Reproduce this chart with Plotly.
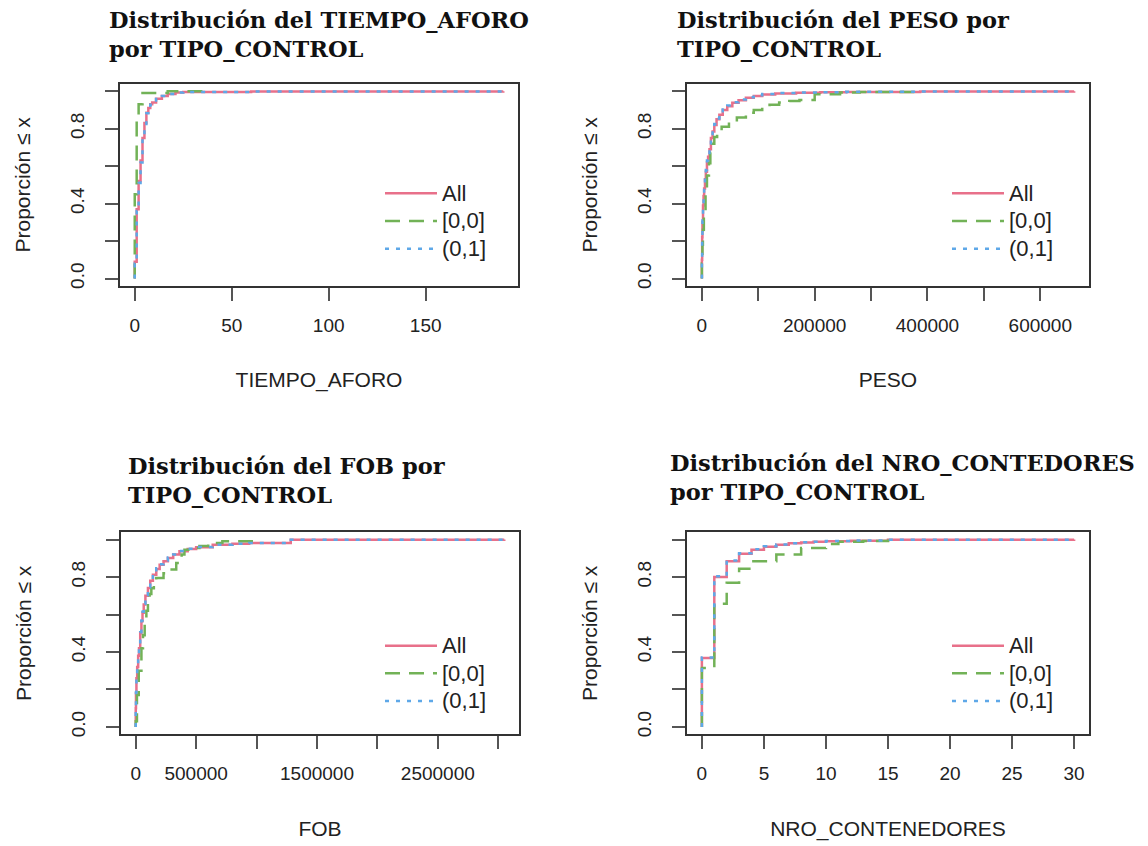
import plotly.graph_objects as go

W, H = 1148, 846
OFF = 8  # the page body adds an 8px margin around the figure

group_names = ["All", "[0,0]", "(0,1]"]

# TIEMPO_AFORO
tiempo_all_x = [0, 0, 1, 2, 3, 4, 5, 6, 7, 8, 9, 11, 14, 17, 21, 25, 60, 190]
tiempo_all_y = [0, 0.09, 0.37, 0.52, 0.63, 0.75, 0.83, 0.885, 0.91, 0.93, 0.94, 0.96, 0.975, 0.985, 0.993, 0.996, 0.999, 1.0]
tiempo_00_x = [0, 0, 1, 2, 4, 17, 38]
tiempo_00_y = [0, 0.45, 0.87, 0.93, 0.99, 1.0, 1.0]
tiempo_01_x = [0, 0, 1, 2, 3, 4, 5, 6, 7, 8, 9, 11, 14, 17, 21, 25, 60, 190]
tiempo_01_y = [0, 0.08, 0.36, 0.51, 0.62, 0.745, 0.825, 0.882, 0.908, 0.928, 0.938, 0.958, 0.974, 0.985, 0.993, 0.996, 0.999, 1.0]

# PESO
peso_all_x = [0, 0, 500, 1000, 2000, 3000, 4000, 5500, 7000, 9000, 11000, 13500, 16000, 19000, 22000, 26000,
              31000, 37000, 45000, 54000, 65000, 78000, 92000, 107000, 130000, 167000, 210000, 256000, 387000, 660000]
peso_all_y = [0, 0.1, 0.22, 0.3, 0.39, 0.44, 0.48, 0.53, 0.57, 0.62, 0.65, 0.69, 0.75, 0.785, 0.82, 0.85,
              0.875, 0.9, 0.92, 0.938, 0.952, 0.965, 0.975, 0.983, 0.988, 0.992, 0.994, 0.996, 0.999, 1.0]
peso_00_x = [0, 0, 1000, 1800, 3500, 6500, 9000, 12500, 15000, 18400, 22000, 27000, 35000, 48000, 62000, 78000,
             92000, 107000, 120000, 137000, 155000, 173000, 200000, 245000, 280000, 387000]
peso_00_y = [0, 0.08, 0.18, 0.26, 0.36, 0.47, 0.55, 0.615, 0.67, 0.72, 0.755, 0.78, 0.81, 0.835, 0.86, 0.885,
             0.9, 0.915, 0.928, 0.94, 0.948, 0.953, 0.984, 0.993, 0.996, 1.0]
peso_01_x = [0, 0, 500, 1000, 2000, 3000, 4000, 5500, 7000, 9000, 11000, 13500, 16000, 19000, 22000, 26000,
             31000, 37000, 45000, 54000, 65000, 78000, 92000, 107000, 130000, 167000, 210000, 256000, 387000, 660000]
peso_01_y = [0, 0.1, 0.23, 0.31, 0.4, 0.45, 0.49, 0.54, 0.58, 0.63, 0.66, 0.7, 0.755, 0.79, 0.825, 0.855,
             0.88, 0.903, 0.924, 0.941, 0.956, 0.968, 0.978, 0.985, 0.99, 0.993, 0.995, 0.997, 0.999, 1.0]

# FOB
fob_all_x = [0, 0, 2000, 5700, 12000, 20000, 27000, 37000, 47000, 56000, 66000, 80000, 101000, 120000, 142000,
             170000, 198000, 230000, 266000, 310000, 362000, 430000, 500000, 637000, 800000, 939000, 1283000, 3050000]
fob_all_y = [0, 0.1, 0.18, 0.26, 0.32, 0.38, 0.42, 0.5, 0.564, 0.61, 0.653, 0.7, 0.742, 0.78, 0.813,
             0.843, 0.866, 0.885, 0.902, 0.92, 0.938, 0.95, 0.959, 0.973, 0.978, 0.982, 0.999, 1.0]
fob_00_x = [0, 0, 10000, 25000, 47000, 60000, 74000, 88000, 101000, 115000, 129000, 150000, 170000, 230000,
            280000, 335000, 380000, 403000, 460000, 527000, 600000, 717000, 960000]
fob_00_y = [0, 0.03, 0.17, 0.3, 0.42, 0.49, 0.555, 0.62, 0.672, 0.71, 0.74, 0.77, 0.795, 0.82,
            0.84, 0.875, 0.92, 0.946, 0.955, 0.966, 0.982, 0.991, 1.0]
fob_01_x = [0, 0, 2000, 5700, 12000, 20000, 27000, 37000, 47000, 56000, 66000, 80000, 101000, 120000, 142000,
            170000, 198000, 230000, 266000, 310000, 362000, 430000, 500000, 637000, 800000, 939000, 1283000, 3050000]
fob_01_y = [0, 0.1, 0.185, 0.265, 0.325, 0.385, 0.425, 0.505, 0.568, 0.615, 0.657, 0.704, 0.746, 0.784, 0.817,
            0.847, 0.869, 0.888, 0.904, 0.921, 0.939, 0.951, 0.96, 0.973, 0.978, 0.982, 0.999, 1.0]

# NRO_CONTENEDORES
nro_all_x = [0, 0, 1, 2, 3, 4, 5, 6, 7, 8, 9, 10, 12, 15, 30]
nro_all_y = [0, 0.368, 0.80, 0.885, 0.924, 0.946, 0.962, 0.973, 0.98, 0.985, 0.988, 0.991, 0.994, 0.999, 1.0]
nro_00_x = [0, 0, 1, 2, 3, 4, 5, 6, 7, 8, 9, 10, 11, 13, 15]
nro_00_y = [0, 0.315, 0.657, 0.77, 0.845, 0.885, 0.885, 0.92, 0.92, 0.955, 0.955, 0.977, 0.988, 0.993, 1.0]
nro_01_x = [0, 0, 1, 2, 3, 4, 5, 6, 7, 8, 9, 10, 12, 15, 30]
nro_01_y = [0, 0.37, 0.805, 0.889, 0.927, 0.948, 0.964, 0.974, 0.981, 0.986, 0.989, 0.992, 0.995, 0.999, 1.0]

titles = ["Distribución del TIEMPO_AFORO<br>por TIPO_CONTROL",
          "Distribución del PESO por<br>TIPO_CONTROL",
          "Distribución del FOB por<br>TIPO_CONTROL",
          "Distribución del NRO_CONTEDORES<br>por TIPO_CONTROL"]
x_titles = ["TIEMPO_AFORO", "PESO", "FOB", "NRO_CONTENEDORES"]
y_title = "Proporción ≤ x"

x_tickvals = [[0, 50, 100, 150],
              [0, 100000, 200000, 300000, 400000, 500000, 600000],
              [0, 500000, 1000000, 1500000, 2000000, 2500000, 3000000],
              [0, 5, 10, 15, 20, 25, 30]]
x_ticktext = [["0", "50", "100", "150"],
              ["0", "", "200000", "", "400000", "", "600000"],
              ["0", "500000", "", "1500000", "", "2500000", ""],
              ["0", "5", "10", "15", "20", "25", "30"]]
y_tickvals = [0, 0.2, 0.4, 0.6, 0.8, 1.0]
y_ticktext = ["0.0", "", "0.4", "", "0.8", ""]

data_sets = [
    [(tiempo_all_x, tiempo_all_y), (tiempo_00_x, tiempo_00_y), (tiempo_01_x, tiempo_01_y)],
    [(peso_all_x, peso_all_y), (peso_00_x, peso_00_y), (peso_01_x, peso_01_y)],
    [(fob_all_x, fob_all_y), (fob_00_x, fob_00_y), (fob_01_x, fob_01_y)],
    [(nro_all_x, nro_all_y), (nro_00_x, nro_00_y), (nro_01_x, nro_01_y)],
]

# ---------------- styling / layout ----------------
colors = ["#E8708A", "#72B257", "#5EA8E8"]
dashes = ["solid", "15px,9px", "4px,7px"]

# plot boxes in window pixels: (left, right, top, bottom)
boxes = [(120, 518, 84, 287), (687, 1089, 84, 287), (121, 519, 534, 737), (687, 1089, 534, 737)]
title_pos = [(107, 35), (675, 35), (126, 482), (668, 479)]
legend_pos = [(380, 175), (947, 175), (380, 629), (947, 629)]


def px_x(p):
    return (p - OFF) / W


def px_y(p):
    return 1 - (p - OFF) / H


TEXT = "#222222"
SANS = "Liberation Sans, Arial, sans-serif"

fig = go.Figure()
layout = dict(width=W, height=H, margin=dict(l=0, r=0, t=0, b=0),
              paper_bgcolor="white", plot_bgcolor="white", annotations=[])

for i, (series, box) in enumerate(zip(data_sets, boxes)):
    n = i + 1
    xa = "x" if n == 1 else f"x{n}"
    ya = "y" if n == 1 else f"y{n}"
    lg = "legend" if n == 1 else f"legend{n}"
    for (xs, ys), name, col, dash in zip(series, group_names, colors, dashes):
        fig.add_trace(go.Scatter(x=xs, y=ys, mode="lines",
                                 name=f"<span style='font-size:22px'>{name}</span>",
                                 line=dict(color=col, width=2.5, dash=dash, shape="hv"),
                                 xaxis=xa, yaxis=ya, legend=lg, hoverinfo="skip"))
    xmax = max(series[0][0])
    pad = 0.04 * xmax
    l, r, t, b = box
    xkey = "xaxis" if n == 1 else f"xaxis{n}"
    ykey = "yaxis" if n == 1 else f"yaxis{n}"
    common = dict(showline=True, mirror=True, linecolor="#333333", linewidth=1.5,
                  ticks="outside", ticklen=13, tickwidth=1.5, tickcolor="#555555",
                  showgrid=False, zeroline=False, tickfont=dict(family=SANS, size=19, color=TEXT))
    layout[xkey] = dict(common, domain=[px_x(l), px_x(r)], anchor=ya, range=[-pad, xmax + pad],
                        tickmode="array", tickvals=x_tickvals[i], ticktext=x_ticktext[i],
                        ticklabelstandoff=8,
                        title=dict(text=x_titles[i], font=dict(family=SANS, size=21, color=TEXT), standoff=38))
    layout[ykey] = dict(common, domain=[px_y(b), px_y(t)], anchor=xa, range=[-0.04, 1.04],
                        tickmode="array", tickvals=y_tickvals, ticktext=y_ticktext, tickangle=-90,
                        ticklabelstandoff=14,
                        title=dict(text=y_title, font=dict(family=SANS, size=21, color=TEXT), standoff=30))
    lx, ly = legend_pos[i]
    layout[lg] = dict(x=px_x(lx), y=px_y(ly), xanchor="left", yanchor="top",
                      bgcolor="rgba(0,0,0,0)", borderwidth=0, itemwidth=52,
                      font=dict(family=SANS, size=19, color=TEXT), tracegroupgap=0)
    tx, ty = title_pos[i]
    layout["annotations"].append(dict(text=titles[i], xref="paper", yref="paper",
                                      x=px_x(tx), y=px_y(ty), xanchor="left", yanchor="middle",
                                      align="left", showarrow=False,
                                      font=dict(family="DejaVu Serif", size=22.5, color="#111111", weight="bold")))

fig.update_layout(**layout)
fig.write_html("out.html")
